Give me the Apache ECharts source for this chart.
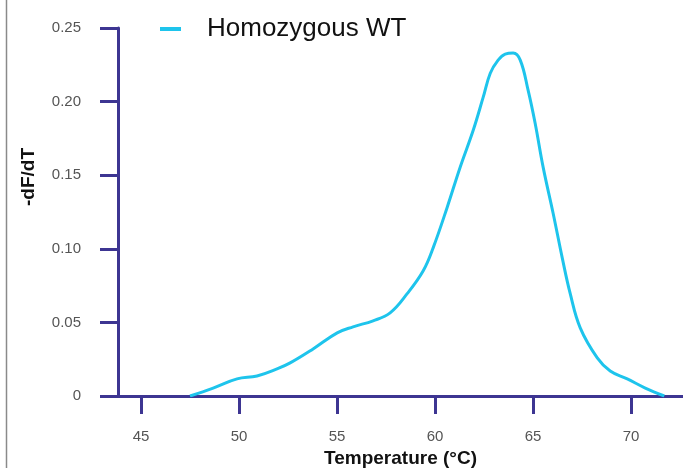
<!DOCTYPE html>
<html>
<head>
<meta charset="utf-8">
<script src="https://cdn.jsdelivr.net/npm/echarts@6/dist/echarts.min.js"></script>
<style>
html,body{margin:0;padding:0;background:#fff;}
#chart{width:683px;height:468px;}
</style>
</head>
<body>
<div id="chart"></div>
<script>
// Temperature (°C) values of the melt-curve samples
var temperature = [47.50, 48.68, 49.90, 50.92, 51.94, 52.61, 53.78, 55.01, 55.82, 56.84, 57.71, 58.58,
  59.40, 59.91, 60.62, 61.28, 61.95, 62.46, 62.82, 63.22, 63.58, 63.99, 64.35, 64.75, 65.11, 65.52,
  66.03, 66.49, 66.90, 67.41, 68.28, 68.94, 69.81, 70.73, 71.70];
// -dF/dT values for "Homozygous WT"
var dFdT = [0.0000, 0.0054, 0.0116, 0.0136, 0.0184, 0.0225, 0.0320, 0.0429, 0.0470, 0.0511, 0.0565, 0.0695,
  0.0851, 0.1008, 0.1281, 0.1553, 0.1805, 0.2030, 0.2193, 0.2282, 0.2323, 0.2330, 0.2282, 0.2078, 0.1853, 0.1553,
  0.1240, 0.0940, 0.0695, 0.0463, 0.0259, 0.0170, 0.0116, 0.0054, 0.0000];
var xTicks = [45, 50, 55, 60, 65, 70];
var yTicks = [0, 0.05, 0.10, 0.15, 0.20, 0.25];
var seriesName = 'Homozygous WT';

var axisColor = '#3d3592';
var lineColor = '#1ec4ec';
var fontFam = '"Liberation Sans", Arial, sans-serif';

var chart = echarts.init(document.getElementById('chart'), null, {renderer: 'canvas'});
chart.setOption({
  backgroundColor: '#fff',
  animation: false,
  grid: {left: 118, right: 0, top: 28, bottom: 72, containLabel: false, outerBoundsMode: 'none'},
  legend: {
    left: 155, top: 11,
    icon: 'rect', itemWidth: 21, itemHeight: 4,
    data: [seriesName],
    textStyle: {fontSize: 26, color: '#111', fontFamily: fontFam, padding: [0, 0, 0, 21]}
  },
  graphic: [{
    type: 'line', shape: {x1: 6.5, y1: 0, x2: 6.5, y2: 468},
    style: {stroke: '#8a8a8a', lineWidth: 1.5}
  }],
  xAxis: {
    type: 'value', min: 43.826, max: 72.654,
    name: 'Temperature (°C)', nameLocation: 'middle', nameGap: 45,
    nameTextStyle: {fontSize: 19, fontWeight: 'bold', color: '#111', fontFamily: fontFam},
    axisLine: {show: true, onZero: false, lineStyle: {color: axisColor, width: 3}},
    axisTick: {show: true, inside: false, length: 18, customValues: xTicks, lineStyle: {color: axisColor, width: 3}},
    axisLabel: {show: true, margin: 33, customValues: xTicks, fontSize: 15, color: '#555', fontFamily: fontFam},
    splitLine: {show: false}
  },
  yAxis: {
    type: 'value', min: 0, max: 0.25, interval: 0.05,
    name: '-dF/dT', nameLocation: 'middle', nameGap: 80, nameRotate: 90,
    nameTextStyle: {fontSize: 19, fontWeight: 'bold', color: '#111', fontFamily: fontFam, padding: [0, 0, 0, 70]},
    axisLine: {show: true, lineStyle: {color: axisColor, width: 3}},
    axisTick: {show: true, inside: false, length: 18, lineStyle: {color: axisColor, width: 3}},
    axisLabel: {
      show: true, margin: 37, fontSize: 15, color: '#555', fontFamily: fontFam,
      formatter: function (v) { return v === 0 ? '0' : v.toFixed(2); }
    },
    splitLine: {show: false}
  },
  series: [{
    name: seriesName, type: 'line', smooth: 0.4, showSymbol: false,
    data: temperature.map(function (t, i) { return [t, dFdT[i]]; }),
    lineStyle: {color: lineColor, width: 3},
    itemStyle: {color: lineColor}
  }]
});
</script>
</body>
</html>
